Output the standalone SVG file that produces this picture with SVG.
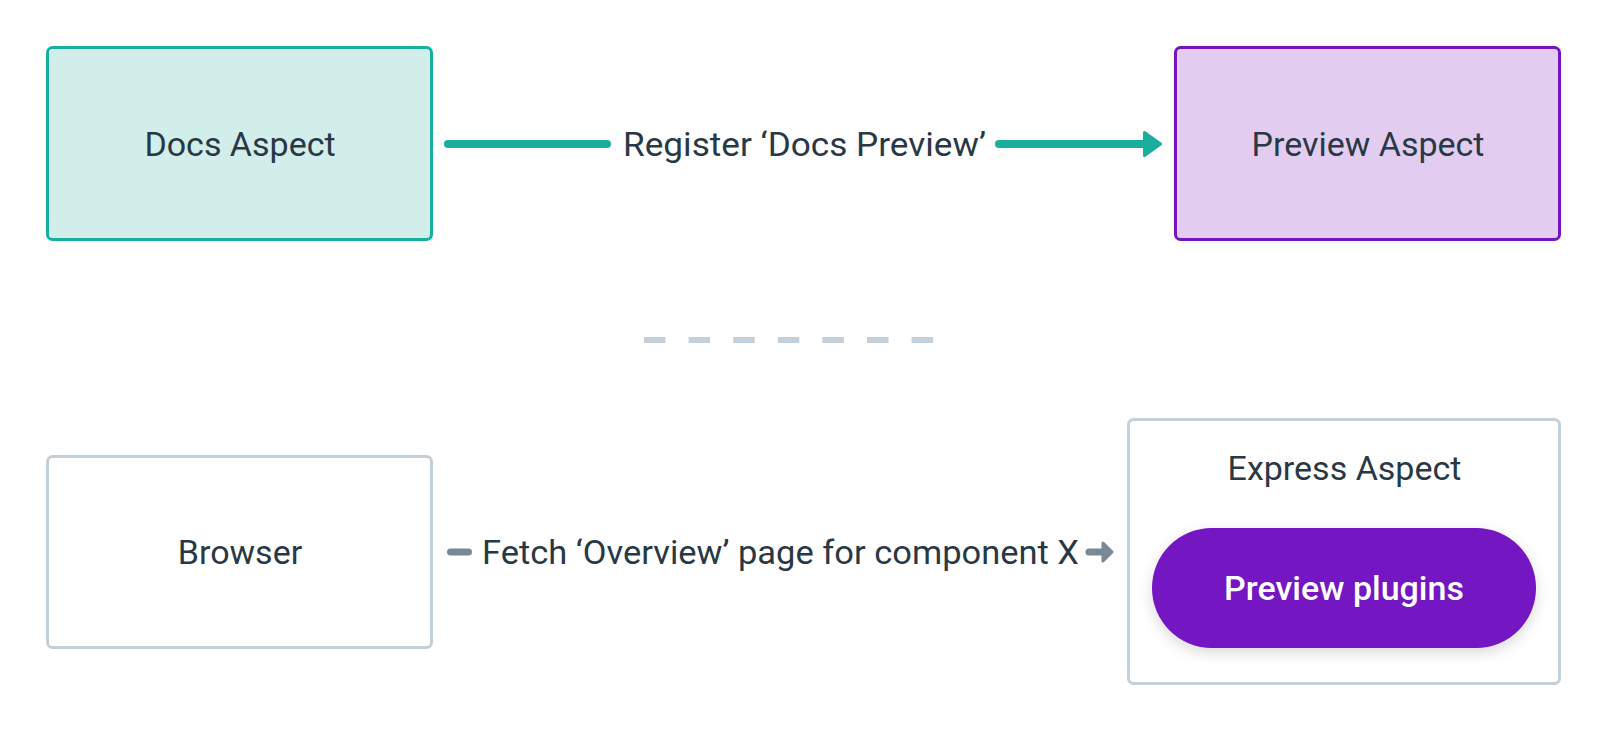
<svg xmlns="http://www.w3.org/2000/svg" width="1608" height="732" viewBox="0 0 1608 732">
  <style>
    .lbl { font-family: Roboto, "Liberation Sans", sans-serif; font-size: 34px; font-weight: 400; fill: #293845; text-anchor: middle; }
    .white { fill: #ffffff; font-weight: 500; }
    .teal { stroke: #1aae9f; fill: #d2eeeb; stroke-width: 3; }
    .purple { stroke: #7515c1; fill: #e2cdf1; stroke-width: 3; }
    .plain { stroke: #c3cfd9; fill: #ffffff; stroke-width: 3; }
  </style>
  <defs>
    <filter id="shadow" x="-20%" y="-30%" width="140%" height="170%">
      <feDropShadow dx="0" dy="5" stdDeviation="7" flood-color="#000000" flood-opacity="0.14"/>
    </filter>
  </defs>
  <rect width="1608" height="732" fill="#ffffff"/>

  <g id="docs-aspect">
    <rect class="teal" x="47.5" y="47.5" width="384" height="192" rx="5"/>
    <text class="lbl" x="240" y="156">Docs Aspect</text>
  </g>

  <g id="preview-aspect">
    <rect class="purple" x="1175.5" y="47.5" width="384" height="192" rx="5"/>
    <text class="lbl" x="1368" y="156">Preview Aspect</text>
  </g>

  <g id="browser">
    <rect class="plain" x="47.5" y="456.5" width="384" height="191" rx="5"/>
    <text class="lbl" x="240" y="564">Browser</text>
  </g>

  <g id="express-aspect">
    <rect class="plain" x="1128.5" y="419.5" width="431" height="264" rx="5"/>
    <text class="lbl" x="1344.5" y="480">Express Aspect</text>
    <g id="preview-plugins">
      <rect x="1152" y="528" width="384" height="120" rx="60" fill="#7412c3" filter="url(#shadow)"/>
      <text class="lbl white" x="1344" y="600">Preview plugins</text>
    </g>
  </g>

  <g id="separator">
    <line x1="644" y1="340" x2="934" y2="340" stroke="#c3cfd9" stroke-width="6" stroke-dasharray="21.5 23.1"/>
  </g>

  <g id="connectors">
    <g id="register">
      <line x1="448" y1="144" x2="607" y2="144" stroke="#1aae9f" stroke-width="8" stroke-linecap="round"/>
      <line x1="999" y1="144" x2="1146" y2="144" stroke="#1aae9f" stroke-width="8" stroke-linecap="round"/>
      <polygon points="1144.5,132.5 1160.5,144 1144.5,155.5" fill="#1aae9f" stroke="#1aae9f" stroke-width="3" stroke-linejoin="round"/>
      <text class="lbl" x="804.5" y="156" textLength="363" lengthAdjust="spacingAndGlyphs">Register ‘Docs Preview’</text>
    </g>
    <g id="fetch">
      <line x1="450.5" y1="552" x2="468.5" y2="552" stroke="#788896" stroke-width="7" stroke-linecap="round"/>
      <line x1="1089" y1="552" x2="1104" y2="552" stroke="#788896" stroke-width="7" stroke-linecap="round"/>
      <polygon points="1103,543 1112,552 1103,561" fill="#788896" stroke="#788896" stroke-width="3" stroke-linejoin="round"/>
      <text class="lbl" x="780.5" y="564" textLength="597" lengthAdjust="spacingAndGlyphs">Fetch ‘Overview’ page for component X</text>
    </g>
  </g>
</svg>
